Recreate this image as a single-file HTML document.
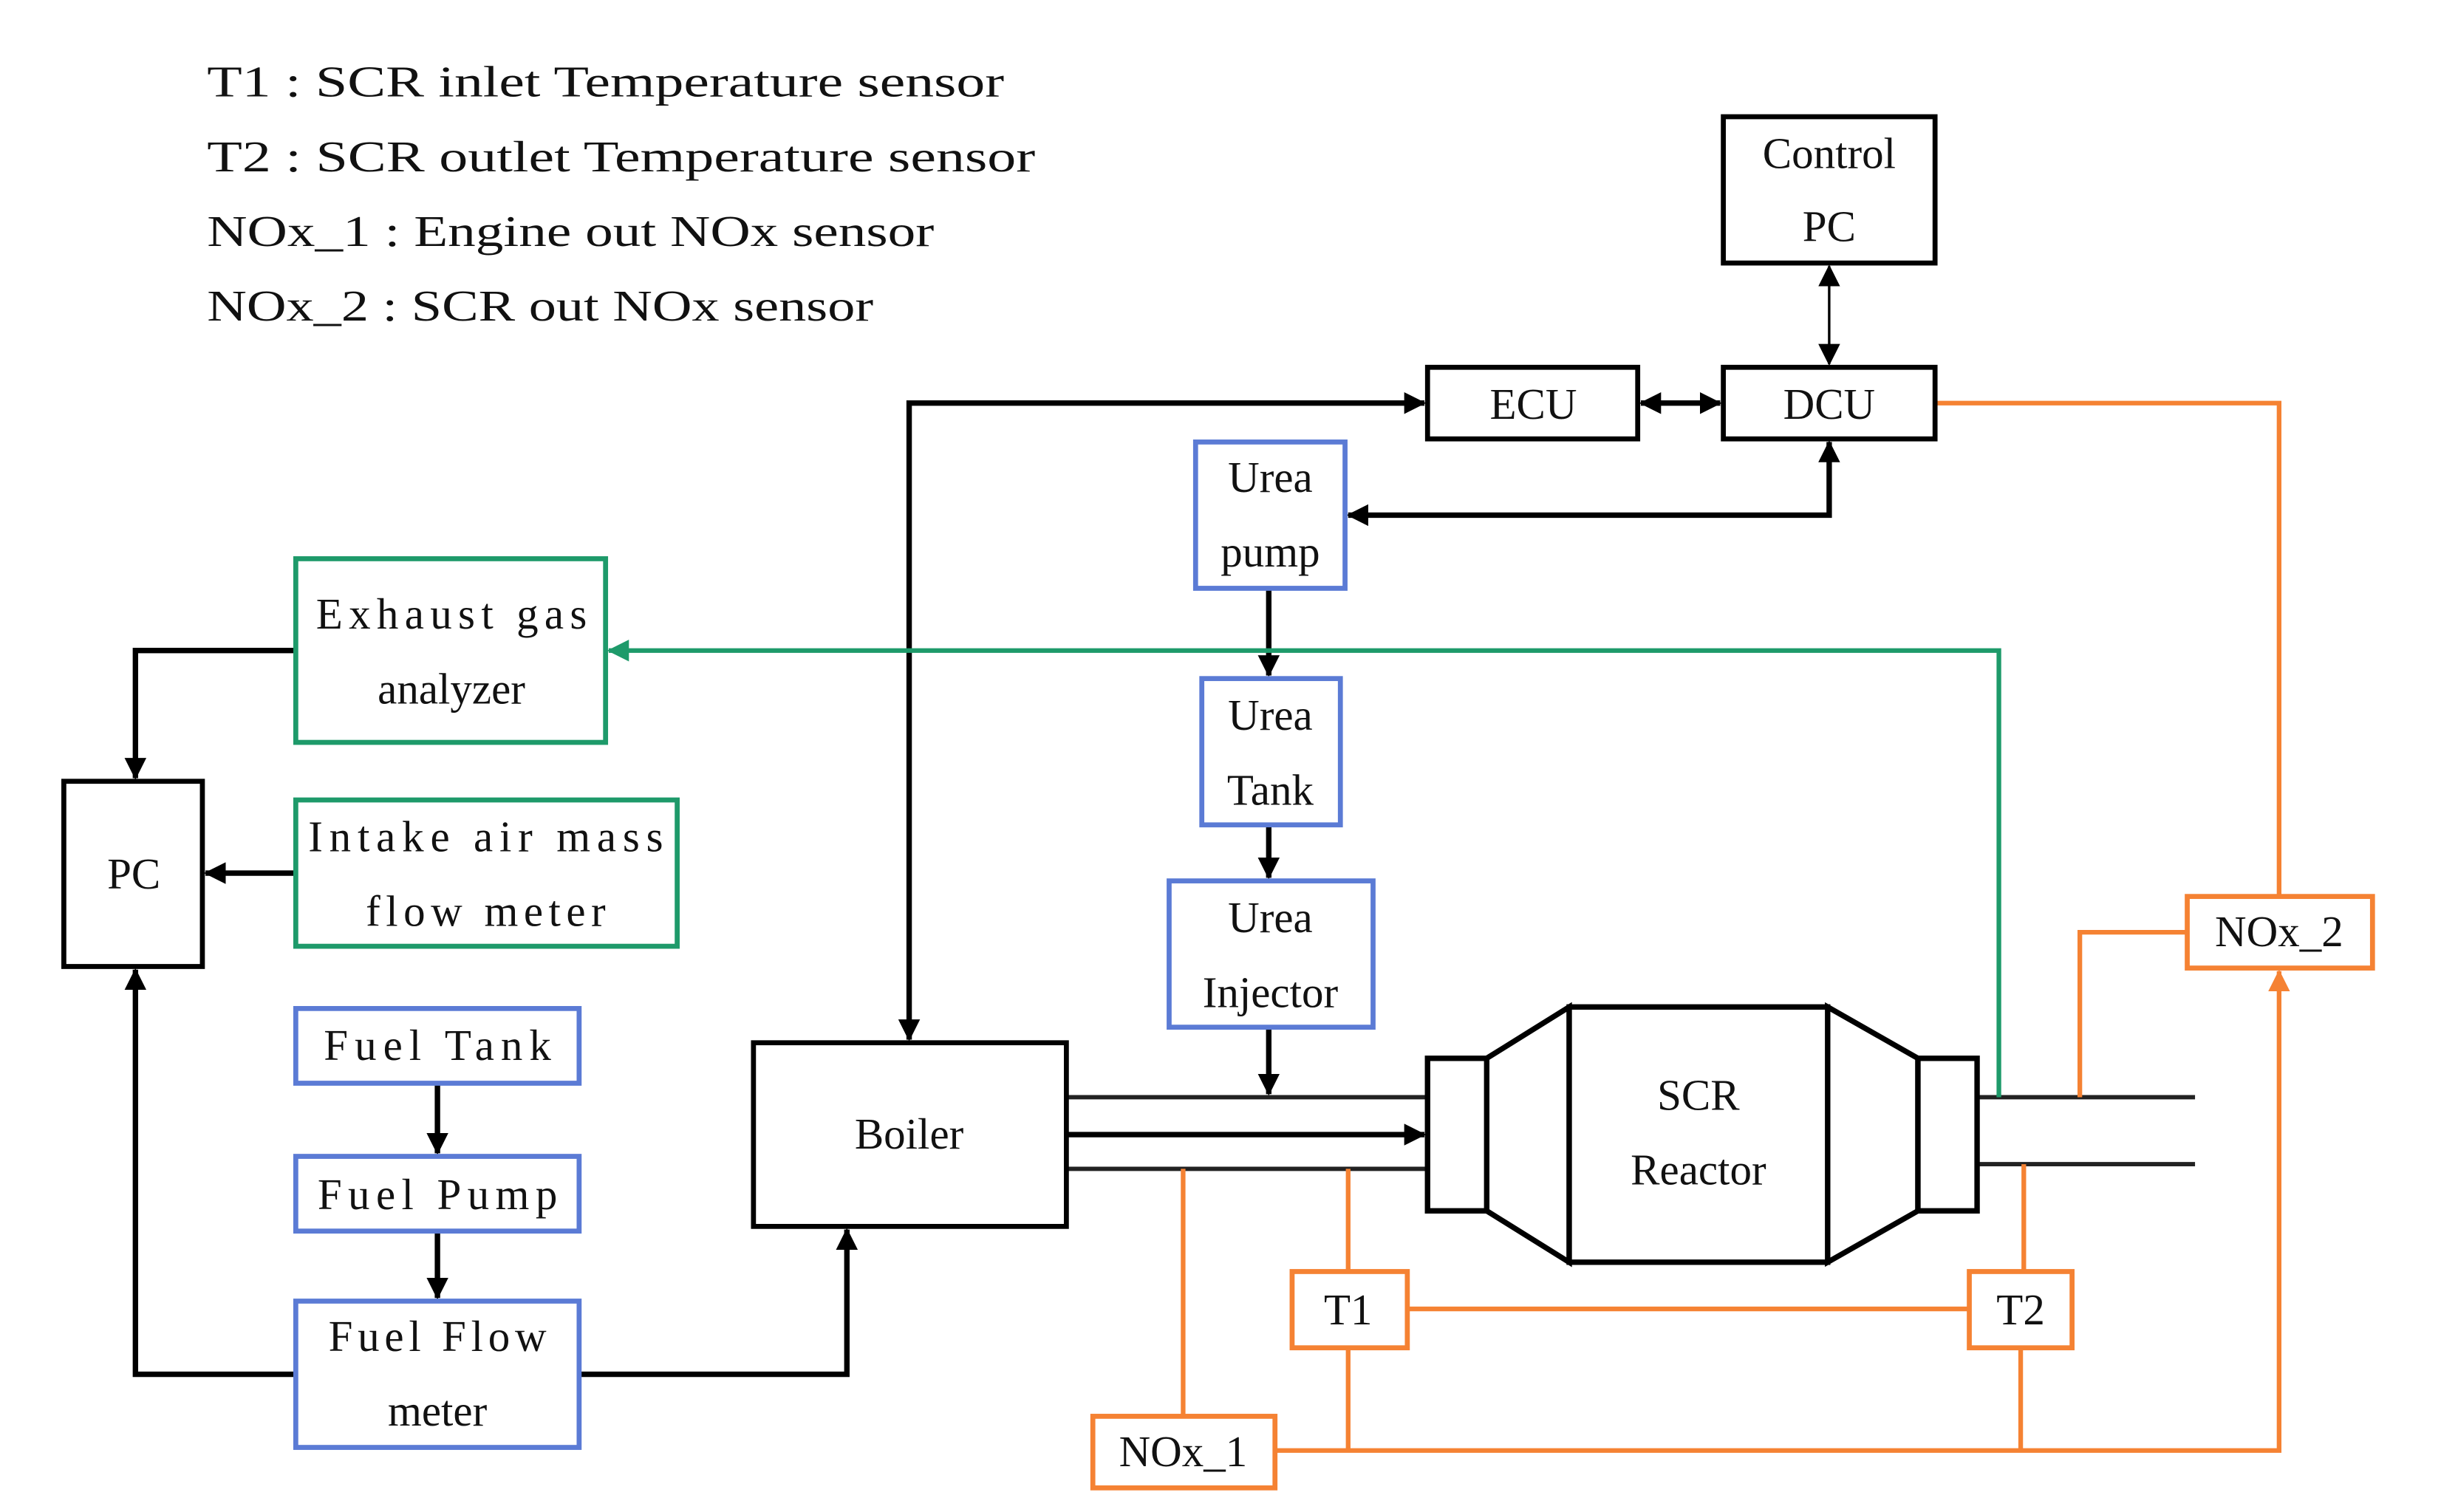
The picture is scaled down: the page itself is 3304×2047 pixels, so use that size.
<!DOCTYPE html>
<html><head><meta charset="utf-8"><style>
html,body{margin:0;padding:0;background:#fff;}
svg{display:block;}
text{font-family:"Liberation Serif","Noto Serif CJK SC",serif;fill:#111;}
</style></head><body>
<svg width="3304" height="2047" viewBox="0 0 1568 971.5" preserveAspectRatio="none" xmlns="http://www.w3.org/2000/svg">
<defs>
<marker id="ab2" markerWidth="14" markerHeight="14" refX="13" refY="7" orient="auto-start-reverse" markerUnits="userSpaceOnUse"><path d="M0,0 L14,7 L0,14 z" fill="#000"/></marker>
<marker id="ag" markerWidth="14" markerHeight="14" refX="13" refY="7" orient="auto" markerUnits="userSpaceOnUse"><path d="M0,0 L14,7 L0,14 z" fill="#1e9a6a"/></marker>
<marker id="ao" markerWidth="14" markerHeight="14" refX="13" refY="7" orient="auto" markerUnits="userSpaceOnUse"><path d="M0,0 L14,7 L0,14 z" fill="#f58233"/></marker>
</defs>
<g font-size="28">
<text x="133" y="62" textLength="512" lengthAdjust="spacingAndGlyphs">T1 : SCR inlet Temperature sensor</text>
<text x="133" y="110" textLength="532" lengthAdjust="spacingAndGlyphs">T2 : SCR outlet Temperature sensor</text>
<text x="133" y="158" textLength="467" lengthAdjust="spacingAndGlyphs">NOx_1 : Engine out NOx sensor</text>
<text x="133" y="206" textLength="428" lengthAdjust="spacingAndGlyphs">NOx_2 : SCR out NOx sensor</text>
</g>
<g stroke="#000" stroke-width="3.5" fill="none">
<path d="M584,668 L584,259 L915,259" marker-start="url(#ab2)" marker-end="url(#ab2)"/>
<path d="M1054,259 L1105,259" marker-start="url(#ab2)" marker-end="url(#ab2)"/>
<path d="M1175,284 L1175,331 L866,331" marker-start="url(#ab2)" marker-end="url(#ab2)"/>
<path d="M815,378 L815,434" marker-end="url(#ab2)"/>
<path d="M815,530 L815,564" marker-end="url(#ab2)"/>
<path d="M815,660 L815,703" marker-end="url(#ab2)"/>
<path d="M190,418 L87,418 L87,500" marker-end="url(#ab2)"/>
<path d="M190,561 L132,561" marker-end="url(#ab2)"/>
<path d="M190,883 L87,883 L87,623" marker-end="url(#ab2)"/>
<path d="M372,883 L544,883 L544,790" marker-end="url(#ab2)"/>
<path d="M281,696 L281,741" marker-end="url(#ab2)"/>
<path d="M281,791 L281,834" marker-end="url(#ab2)"/>
<path d="M685,729 L915,729" marker-end="url(#ab2)"/>
</g>
<path d="M1175,171 L1175,234" stroke="#000" stroke-width="1.6" marker-start="url(#ab2)" marker-end="url(#ab2)"/>
<g stroke="#222" stroke-width="2.8">
<line x1="685" y1="705" x2="917" y2="705"/>
<line x1="685" y1="751" x2="917" y2="751"/>
<line x1="1270" y1="705" x2="1410" y2="705"/>
<line x1="1270" y1="748" x2="1410" y2="748"/>
</g>
<path d="M1284,705 L1284,418 L391,418" stroke="#1e9a6a" stroke-width="3" fill="none" marker-end="url(#ag)"/>
<g stroke="#f58233" stroke-width="3" fill="none">
<path d="M1243,259 L1464,259 L1464,576"/>
<path d="M1336,705 L1336,599 L1405,599"/>
<path d="M1300,748 L1300,817"/>
<path d="M866,751 L866,817"/>
<path d="M760,751 L760,910"/>
<path d="M904,841 L1265,841"/>
<path d="M866,866 L866,932"/>
<path d="M1298,866 L1298,932"/>
<path d="M819,932 L1464,932 L1464,624" marker-end="url(#ao)"/>
</g>
<g stroke="#000" stroke-width="3.5" fill="#fff">
<path d="M955,680 L1008,647 L1008,811 L955,778 z"/>
<path d="M1174,647 L1232,680 L1232,778 L1174,811 z"/>
<rect x="1008" y="647" width="166" height="164"/>
<rect x="917" y="680" width="38" height="98"/>
<rect x="1232" y="680" width="38" height="98"/>
</g>
<g fill="#fff" stroke-width="3.2">
<rect x="1107" y="75" width="136" height="94" stroke="#000"/>
<rect x="917" y="236" width="135" height="46" stroke="#000"/>
<rect x="1107" y="236" width="136" height="46" stroke="#000"/>
<rect x="41" y="502" width="89" height="119" stroke="#000"/>
<rect x="484" y="670" width="201" height="118" stroke="#000"/>
<rect x="768" y="284" width="96" height="94" stroke="#5b7bd5"/>
<rect x="772" y="436" width="89" height="94" stroke="#5b7bd5"/>
<rect x="751" y="566" width="131" height="94" stroke="#5b7bd5"/>
<rect x="190" y="648" width="182" height="48" stroke="#5b7bd5"/>
<rect x="190" y="743" width="182" height="48" stroke="#5b7bd5"/>
<rect x="190" y="836" width="182" height="94" stroke="#5b7bd5"/>
<rect x="190" y="359" width="199" height="118" stroke="#1e9a6a"/>
<rect x="190" y="514" width="245" height="94" stroke="#1e9a6a"/>
<rect x="1405" y="576" width="119" height="46" stroke="#f58233"/>
<rect x="830" y="817" width="74" height="49" stroke="#f58233"/>
<rect x="1265" y="817" width="66" height="49" stroke="#f58233"/>
<rect x="702" y="910" width="117" height="46" stroke="#f58233"/>
</g>
<g font-size="28" text-anchor="middle">
<text x="1175" y="108">Control</text><text x="1175" y="155">PC</text>
<text x="985" y="269">ECU</text>
<text x="1175" y="269">DCU</text>
<text x="86" y="571">PC</text>
<text x="584" y="738">Boiler</text>
<text x="816" y="316">Urea</text><text x="816" y="364">pump</text>
<text x="816" y="469">Urea</text><text x="816" y="517">Tank</text>
<text x="816" y="599">Urea</text><text x="816" y="647">Injector</text>
<text x="281" y="681" textLength="146" lengthAdjust="spacing">Fuel Tank</text>
<text x="281" y="777" textLength="154" lengthAdjust="spacing">Fuel Pump</text>
<text x="281" y="868" textLength="140" lengthAdjust="spacing">Fuel Flow</text><text x="281" y="916">meter</text>
<text x="290" y="404" textLength="174" lengthAdjust="spacing">Exhaust gas</text><text x="290" y="452">analyzer</text>
<text x="312" y="547" textLength="228" lengthAdjust="spacing">Intake air mass</text><text x="312" y="595" textLength="154" lengthAdjust="spacing">flow meter</text>
<text x="1091" y="713">SCR</text><text x="1091" y="761">Reactor</text>
<text x="1464" y="608">NOx_2</text>
<text x="866" y="851">T1</text>
<text x="1298" y="851">T2</text>
<text x="760" y="942">NOx_1</text>
</g>
</svg>
</body></html>
